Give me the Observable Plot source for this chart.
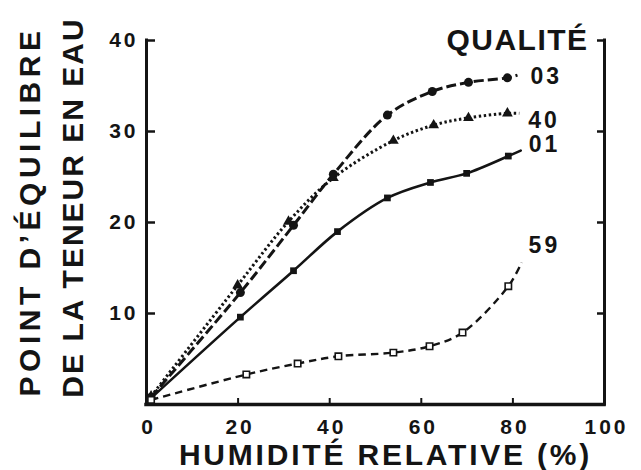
<!DOCTYPE html>
<html><head><meta charset="utf-8">
<script src="https://cdn.jsdelivr.net/npm/d3@7"></script>
<script src="https://cdn.jsdelivr.net/npm/@observablehq/plot@0.6"></script>
<style>body{margin:0;background:#fff} svg{display:block}</style>
</head><body><div id="chart"></div>
<script>
// Tick labels
const humidityTicks = [0, 20, 40, 60, 80, 100];
const moistureTicks = [10, 20, 30, 40];
const innerXTicks = [20, 40, 60, 80];

// Series (grade) names
const grades = ["03", "40", "01", "59"];

// Measured points: relative humidity (%) and equilibrium moisture content
const humidity03 = [1, 20.5, 32.1, 40.8, 52.6, 62.4, 70.3, 78.8];
const moisture03 = [0.8, 12.3, 19.7, 25.3, 31.8, 34.4, 35.4, 35.9];
const humidity40 = [1, 19.9, 31.0, 40.8, 53.9, 62.7, 70.3, 78.8];
const moisture40 = [0.9, 13.1, 20.1, 24.9, 29.0, 30.7, 31.5, 32.0];
const humidity01 = [1, 20.5, 32.1, 41.7, 52.6, 62.0, 69.9, 79.0];
const moisture01 = [0.7, 9.6, 14.7, 19.0, 22.7, 24.4, 25.4, 27.3];
const humidity59 = [1, 21.8, 33.0, 41.9, 53.9, 61.8, 69.0, 79.0];
const moisture59 = [0.5, 3.3, 4.5, 5.3, 5.7, 6.4, 7.9, 13.0];

// Where each drawn curve ends (beyond its last marker)
const curveEndHumidity = [81.0, 81.4, 81.7, 81.9];
const curveEndMoisture = [36.2, 32.0, 27.9, 15.6];

const hs = [humidity03, humidity40, humidity01, humidity59];
const ms = [moisture03, moisture40, moisture01, moisture59];
const pts = {}, curves = {}, ends = {};
grades.forEach((g, k) => {
  pts[g] = hs[k].map((h, i) => ({grade: g, h, m: ms[k][i]}));
  ends[g] = [{grade: g, h: curveEndHumidity[k], m: curveEndMoisture[k]}];
  curves[g] = pts[g].concat(ends[g]);
});

const font = "'Liberation Sans', Arial, Helvetica, sans-serif";
const ink = "#141414";

const plot = Plot.plot({
  width: 641, height: 470,
  marginLeft: 146, marginRight: 37, marginTop: 40, marginBottom: 66,
  x: {domain: [0, 100]},
  y: {domain: [0, 40]},
  style: {fontFamily: font, background: "white", color: ink, overflow: "visible"},
  marks: [
    // frame (left, right, bottom)
    Plot.ruleX([0, 100], {stroke: ink, strokeWidth: 3, strokeLinecap: "square"}),
    Plot.ruleY([0], {stroke: ink, strokeWidth: 3.5, strokeLinecap: "square"}),
    // inward ticks
    Plot.axisY(moistureTicks, {anchor: "left", tickSize: 9, dx: 9, fill: "none", strokeWidth: 2.5, label: null}),
    Plot.axisY(moistureTicks, {anchor: "right", tickSize: 8, dx: -8, fill: "none", strokeWidth: 2.5, label: null}),
    Plot.axisX(innerXTicks, {anchor: "bottom", tickSize: 6, dy: -6, fill: "none", strokeWidth: 2, label: null}),
    // tick labels
    Plot.axisY(moistureTicks, {anchor: "left", tickSize: 0, tickPadding: 8, fontSize: 21, fontWeight: "bold", label: null}),
    Plot.axisX(humidityTicks, {anchor: "bottom", tickSize: 0, tickPadding: 15, dx: 2, fontSize: 21, fontWeight: "bold", label: null}),
    // curves
    Plot.line(curves["03"], {x: "h", y: "m", curve: "catmull-rom", stroke: ink, strokeWidth: 3, strokeDasharray: "10,4", strokeLinecap: "butt"}),
    Plot.line(curves["40"], {x: "h", y: "m", curve: "catmull-rom", stroke: ink, strokeWidth: 3, strokeDasharray: "2.4,2.6", strokeLinecap: "butt"}),
    Plot.line(curves["01"], {x: "h", y: "m", curve: "catmull-rom", stroke: ink, strokeWidth: 2.6}),
    Plot.line(curves["59"], {x: "h", y: "m", curve: "catmull-rom", stroke: ink, strokeWidth: 2.4, strokeDasharray: "7.5,5", strokeLinecap: "butt"}),
    // markers
    Plot.dot(pts["03"], {x: "h", y: "m", symbol: "circle", r: 4.5, fill: ink}),
    Plot.dot(pts["40"], {x: "h", y: "m", symbol: "triangle", r: 4, fill: ink}),
    Plot.dot(pts["01"], {x: "h", y: "m", symbol: "square", r: 3.8, fill: ink}),
    Plot.dot(pts["59"], {x: "h", y: "m", symbol: "square", r: 3.6, fill: "white", stroke: ink, strokeWidth: 1.6}),
    // series labels at curve ends
    Plot.text(ends["03"], {x: "h", y: "m", text: "grade", textAnchor: "start", lineAnchor: "middle", dx: 13, dy: 2, fontSize: 23, fontWeight: "bold", fill: ink}),
    Plot.text(ends["40"], {x: "h", y: "m", text: "grade", textAnchor: "start", lineAnchor: "middle", dx: 9, dy: 7, fontSize: 23, fontWeight: "bold", fill: ink}),
    Plot.text(ends["01"], {x: "h", y: "m", text: "grade", textAnchor: "start", lineAnchor: "middle", dx: 8, dy: -6, fontSize: 23, fontWeight: "bold", fill: ink}),
    Plot.text(ends["59"], {x: "h", y: "m", text: "grade", textAnchor: "start", lineAnchor: "middle", dx: 7, dy: -17, fontSize: 23, fontWeight: "bold", fill: ink}),
    // titles
    Plot.text(["QUALITÉ"], {frameAnchor: "top-right", textAnchor: "middle", lineAnchor: "middle", dx: -87, dy: 0, fontSize: 30, fontWeight: "bold", fill: ink}),
    Plot.text(["HUMIDITÉ RELATIVE (%)"], {frameAnchor: "bottom", textAnchor: "middle", lineAnchor: "middle", dx: 10, dy: 51, fontSize: 30, fontWeight: "bold", fill: ink}),
    Plot.text(["POINT D’ÉQUILIBRE"], {frameAnchor: "left", rotate: -90, textAnchor: "middle", lineAnchor: "middle", dx: -116, dy: -11, fontSize: 30, fontWeight: "bold", fill: ink}),
    Plot.text(["DE LA TENEUR EN EAU"], {frameAnchor: "left", rotate: -90, textAnchor: "middle", lineAnchor: "middle", dx: -73, dy: -15, fontSize: 30, fontWeight: "bold", fill: ink})
  ]
});

const spacing = {
  "QUALITÉ": 1.5,
  "HUMIDITÉ RELATIVE (%)": 2.8,
  "POINT D’ÉQUILIBRE": 4.5,
  "DE LA TENEUR EN EAU": 2
};
d3.select(plot).selectAll("text").each(function() {
  const t = this.textContent;
  const s = spacing[t] !== undefined ? spacing[t] : 3;
  this.setAttribute("letter-spacing", s);
});
document.getElementById("chart").appendChild(plot);
</script>
</body></html>
